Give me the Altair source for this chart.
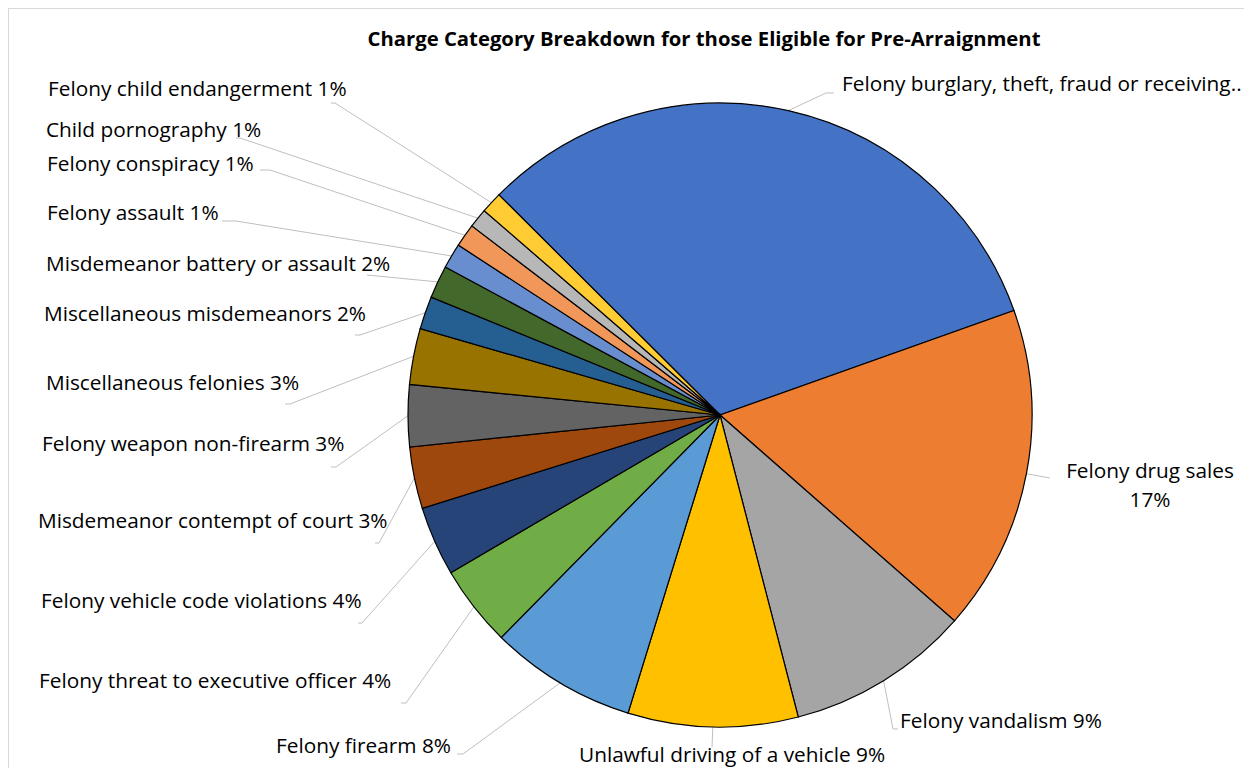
import math
import altair as alt
import pandas as pd

# ---------------- data ----------------
categories = [
    "Felony burglary, theft, fraud or receiving",
    "Felony drug sales",
    "Felony vandalism",
    "Unlawful driving of a vehicle",
    "Felony firearm",
    "Felony threat to executive officer",
    "Felony vehicle code violations",
    "Misdemeanor contempt of court",
    "Felony weapon non-firearm",
    "Miscellaneous felonies",
    "Miscellaneous misdemeanors",
    "Misdemeanor battery or assault",
    "Felony assault",
    "Felony conspiracy",
    "Child pornography",
    "Felony child endangerment",
]
values = [32.1, 16.9, 9.5, 8.8, 7.6, 4.2, 3.6, 3.2, 3.2, 2.9, 1.7, 1.7, 1.3, 1.2, 1.0, 1.1]
label_text = [
    "Felony burglary, theft, fraud or receiving..",
    "Felony drug sales\n17%",
    "Felony vandalism 9%",
    "Unlawful driving of a vehicle 9%",
    "Felony firearm 8%",
    "Felony threat to executive officer 4%",
    "Felony vehicle code violations 4%",
    "Misdemeanor contempt of court 3%",
    "Felony weapon non-firearm 3%",
    "Miscellaneous felonies 3%",
    "Miscellaneous misdemeanors 2%",
    "Misdemeanor battery or assault 2%",
    "Felony assault 1%",
    "Felony conspiracy 1%",
    "Child pornography 1%",
    "Felony child endangerment 1%",
]
colors = [
    "#4472C4", "#ED7D31", "#A5A5A5", "#FFC000", "#5B9BD5", "#70AD47",
    "#264478", "#9E480E", "#636363", "#997300", "#255E91", "#43682B",
    "#698ED0", "#F1975A", "#B7B7B7", "#FFCD33",
]
title_text = "Charge Category Breakdown for those Eligible for Pre-Arraignment"

# ---------------- label layout (page pixels) ----------------
label_x = [842, 1150, 900, 579, 276, 39, 41, 38, 42, 46, 44, 46, 47, 47, 46, 48]
label_y = [85, 472, 722, 756, 747, 682, 602, 522, 445, 384, 315, 265, 214, 165, 131, 90]
label_align = ["left", "center", "left", "left", "left", "left", "left", "left",
               "left", "left", "left", "left", "left", "left", "left", "left"]
elbow_x = [826, 1050, 893, 712, 463, 406, 362, 379, 336, 290, 360, 367, 236, 270, 240, 335]
elbow_y = [93, 478, 729, 747, 754, 703, 623, 543, 467, 404, 335, 275, 221, 170, 138, 103]
tail_x = [834, 1050, 898, 712, 457, 401, 358, 375, 331, 285, 355, 367, 222, 260, 236, 331]

OFF = 8
W, H = 1236, 760
CX, CY, R = 720 - OFF, 415 - OFF, 312
START = math.radians(314.87)
FONT = "Open Sans"
FS = 20.8

df = pd.DataFrame({
    "idx": list(range(len(categories))),
    "category": categories,
    "value": values,
    "label": label_text,
    "align": label_align,
    "lx": label_x, "ly": label_y,
    "ex": elbow_x, "ey": elbow_y, "tx": tail_x,
})

pie = alt.Chart(df).mark_arc(radius=R, stroke="#000000", strokeWidth=1.2).encode(
    theta=alt.Theta("value:Q", stack=True,
                    scale=alt.Scale(range=[START, START + 2 * math.pi])),
    color=alt.Color("category:N", scale=alt.Scale(domain=categories, range=colors), legend=None),
    order=alt.Order("idx:Q"),
    x=alt.value(CX),
    y=alt.value(CY),
)

geo = alt.Chart(df).transform_joinaggregate(
    total="sum(value)"
).transform_window(
    cum="sum(value)", sort=[alt.SortField("idx")]
).transform_calculate(
    ang=f"{START} + 2*PI*(datum.cum - datum.value/2)/datum.total"
).transform_calculate(
    px=f"{CX} + {R}*sin(datum.ang)",
    py=f"{CY} - {R}*cos(datum.ang)",
    exp=f"datum.ex - {OFF}",
    eyp=f"datum.ey - {OFF}",
    txp=f"datum.tx - {OFF}",
    lxp=f"datum.lx - {OFF}",
    lyp=f"datum.ly - {OFF}",
)

leader = geo.mark_rule(color="#bfbfbf", strokeWidth=1).encode(
    x=alt.X("px:Q", scale=None), y=alt.Y("py:Q", scale=None),
    x2="exp:Q", y2="eyp:Q",
)
tail = geo.mark_rule(color="#bfbfbf", strokeWidth=1).encode(
    x=alt.X("exp:Q", scale=None), y=alt.Y("eyp:Q", scale=None),
    x2="txp:Q", y2="eyp:Q",
)

text_left = geo.transform_filter("datum.align == 'left'").mark_text(
    align="left", baseline="middle", font=FONT, fontSize=FS, color="#000000"
).encode(x=alt.X("lxp:Q", scale=None), y=alt.Y("lyp:Q", scale=None), text="label:N")

text_center = geo.transform_filter("datum.align == 'center'").mark_text(
    align="center", baseline="middle", font=FONT, fontSize=FS, color="#000000",
    lineBreak="\n", lineHeight=29
).encode(x=alt.X("lxp:Q", scale=None), y=alt.Y("lyp:Q", scale=None), text="label:N")

one = pd.DataFrame({"t": [title_text]})
title = alt.Chart(one).mark_text(
    align="center", baseline="middle", font=FONT, fontSize=20.3, fontWeight="bold", color="#000000"
).encode(x=alt.value(704 - OFF), y=alt.value(40 - OFF), text="t:N")

border_l = alt.Chart(one).mark_rule(color="#d9d9d9", strokeWidth=1).encode(
    x=alt.value(0.5), y=alt.value(0), y2=alt.value(H))
border_t = alt.Chart(one).mark_rule(color="#d9d9d9", strokeWidth=1).encode(
    y=alt.value(0.5), x=alt.value(0), x2=alt.value(W))

chart = alt.layer(border_l, border_t, leader, tail, pie, text_left, text_center, title).properties(
    width=W, height=H, padding=0, autosize=alt.AutoSizeParams(type="none")
).configure_view(stroke=None)

chart.save("out.html", embed_options={"renderer": "svg", "actions": False})
